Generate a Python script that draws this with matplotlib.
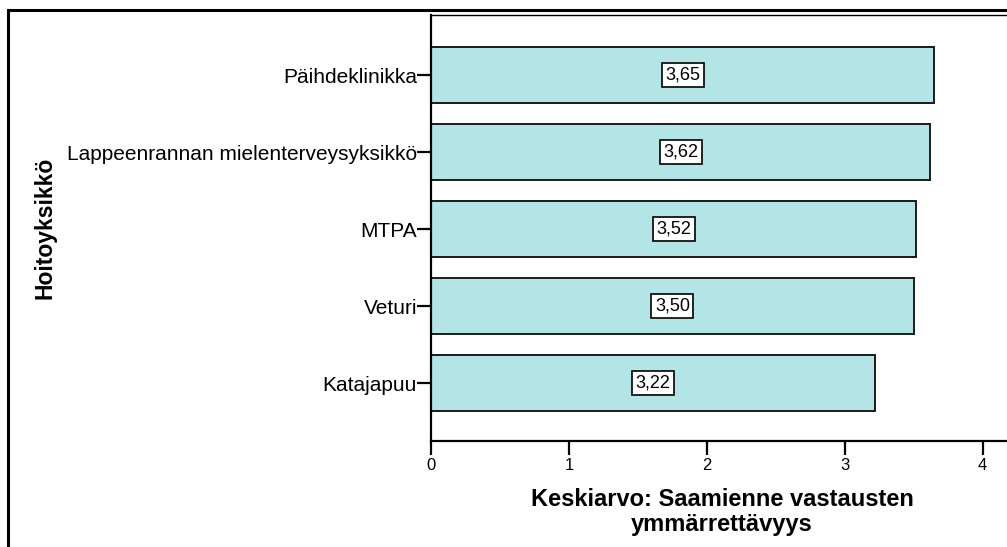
import matplotlib
matplotlib.use("Agg")
import matplotlib.pyplot as plt
from matplotlib.patches import Rectangle

plt.rcParams['font.family'] = ['Liberation Sans', 'DejaVu Sans']

units = ["Päihdeklinikka", "Lappeenrannan mielenterveysyksikkö", "MTPA", "Veturi", "Katajapuu"]
means = [3.65, 3.62, 3.52, 3.50, 3.22]
value_labels = ["3,65", "3,62", "3,52", "3,50", "3,22"]
x_ticks = [0, 1, 2, 3, 4]

fig = plt.figure(figsize=(10.07, 5.47), dpi=100)
fig.patches.append(Rectangle((8 / 1007, -0.1), 1.2, 1 - 9.5 / 547 + 0.1,
                             transform=fig.transFigure, fill=False,
                             edgecolor='black', linewidth=2.2, zorder=0))

ax = fig.add_axes([431 / 1007, 1 - 441 / 547, (1013 - 431) / 1007, (441 - 15) / 547])
pos = list(range(len(units)))
ax.barh(pos, means, height=0.73, color='#b4e5e6', edgecolor='#1a1a1a', linewidth=1.4)
for p, v, lab in zip(pos, means, value_labels):
    ax.text(v / 2, p, lab, ha='center', va='center', fontsize=13,
            bbox=dict(boxstyle='square,pad=0.2', facecolor='white',
                      edgecolor='black', linewidth=1.2))

ax.set_ylim(4.75, -0.78)
ax.set_xlim(0, 4.22)
ax.set_yticks(pos)
ax.set_yticklabels(units, fontsize=15)
ax.set_xticks(x_ticks)
ax.set_xticklabels([str(t) for t in x_ticks], fontsize=12)
ax.tick_params(axis='y', length=10, width=1.6, direction='out', pad=0)
ax.tick_params(axis='x', length=10, width=1.6, direction='out', pad=2)
for side in ['left', 'bottom']:
    ax.spines[side].set_linewidth(1.6)
ax.spines['top'].set_linewidth(1.0)

ax.set_xlabel("Keskiarvo: Saamienne vastausten\nymmärrettävyys", fontsize=17,
              fontweight='bold', linespacing=1.12, labelpad=11)
fig.text(45 / 1007, 1 - 228 / 547, "Hoitoyksikkö", rotation=90, ha='center',
         va='center', fontsize=16.5, fontweight='bold')

fig.savefig("out.png", dpi=100)
